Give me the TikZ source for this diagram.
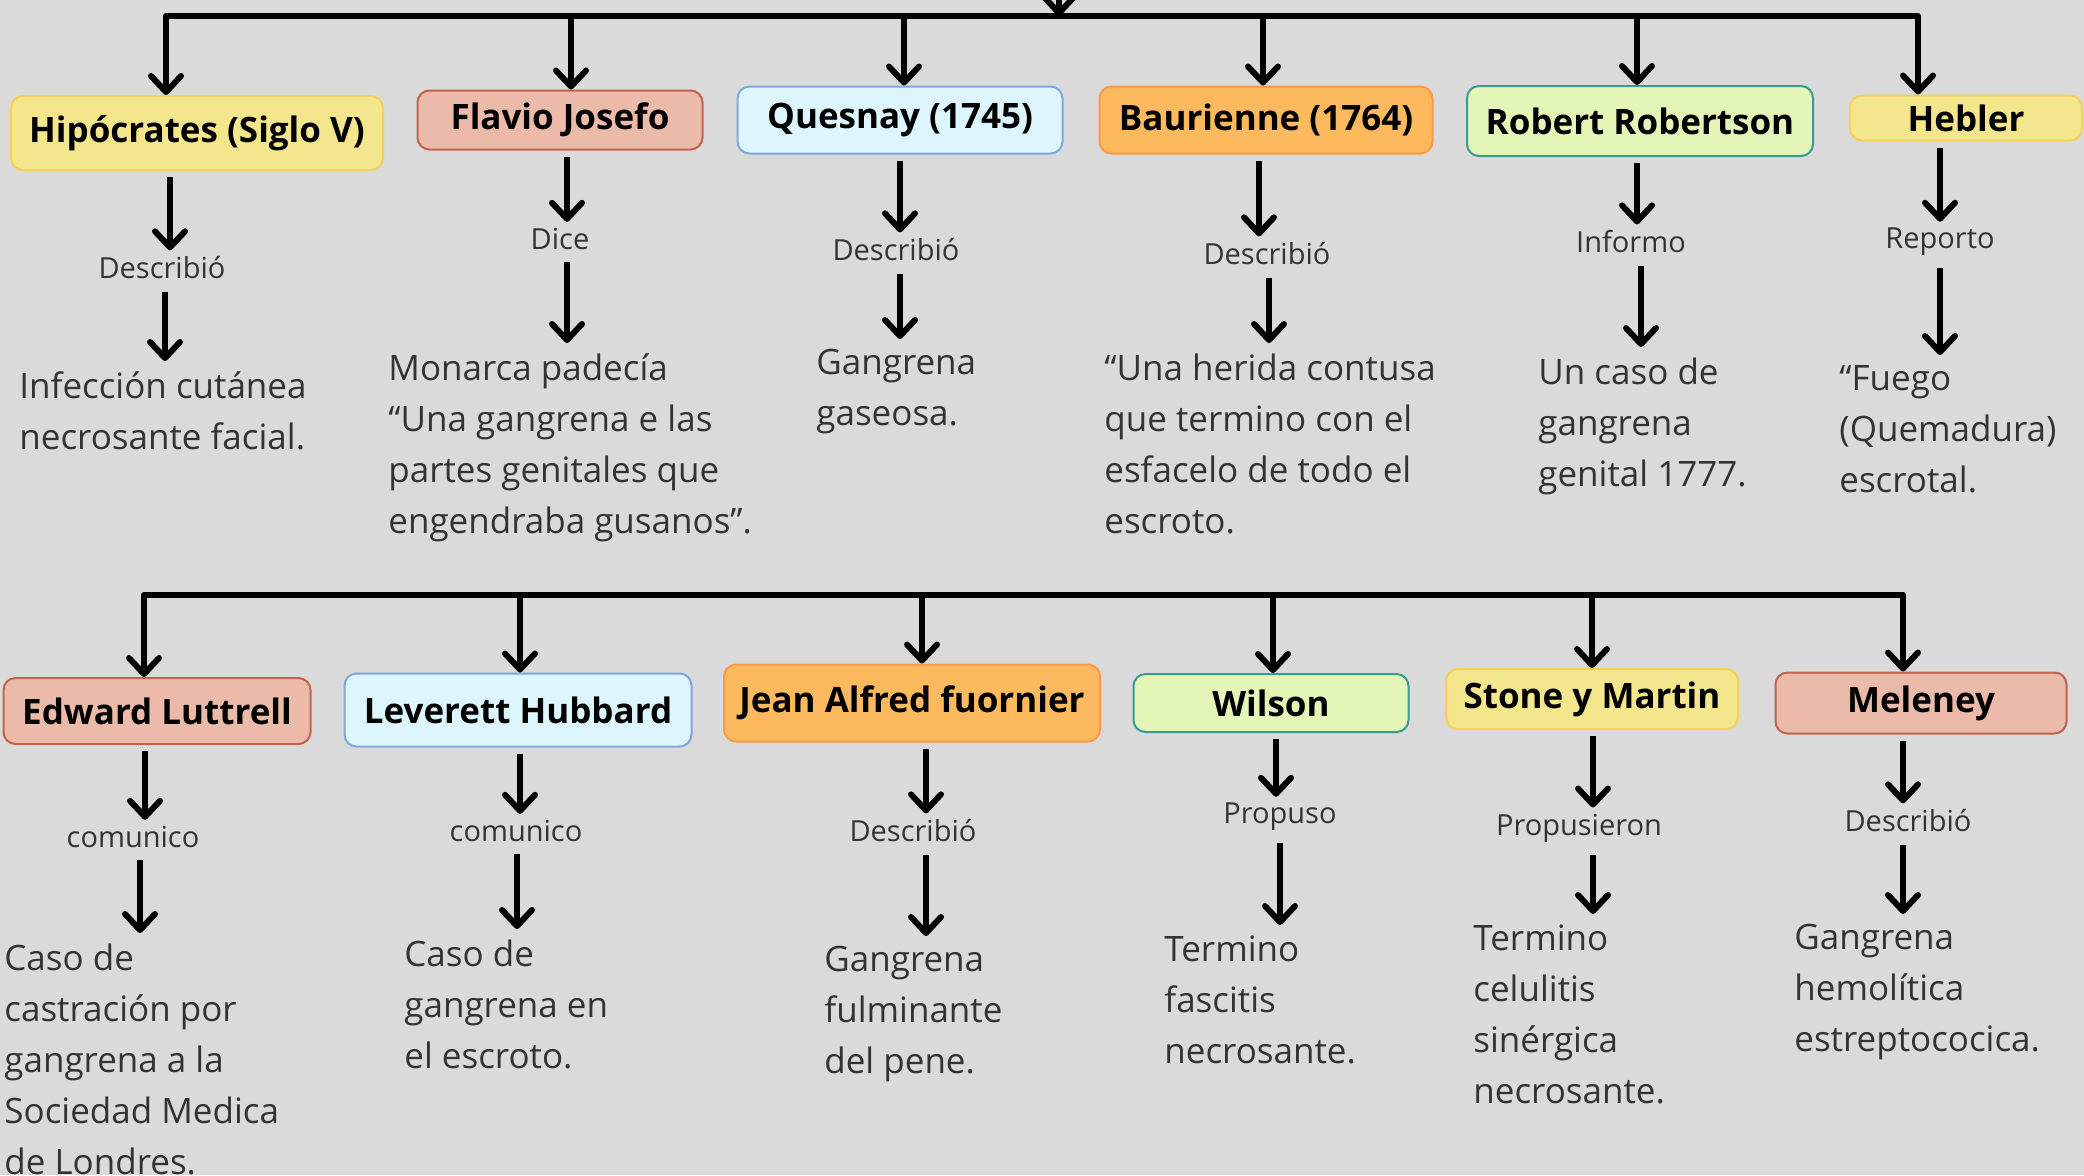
\documentclass[tikz,border=0pt]{standalone}
\usepackage{fontspec}
\setmainfont{Open Sans}
\usetikzlibrary{arrows.meta}

\definecolor{fondo}{HTML}{DADADA}
\definecolor{salmonF}{HTML}{EBBAA8}
\definecolor{salmonD}{HTML}{C0634D}
\definecolor{amarF}{HTML}{F4E68C}
\definecolor{amarD}{HTML}{F6D05A}
\definecolor{celesteF}{HTML}{DDF6FE}
\definecolor{celesteD}{HTML}{7FA6E0}
\definecolor{naranjaF}{HTML}{FDB95E}
\definecolor{naranjaD}{HTML}{F99A4A}
\definecolor{verdeF}{HTML}{E3F5B7}
\definecolor{verdeD}{HTML}{3A9A95}

\begin{document}
\begin{tikzpicture}[x=0.5pt,y=-0.5pt,
	barra/.style={line width=3pt,line cap=round},
	flecha/.style={line width=3pt,-{Straight Barb[length=8pt,width=15pt,round]}},
	caja/.style={rounded corners=6pt,line width=1pt,inner sep=0pt,
		font=\bfseries\fontsize{17.5}{20}\selectfont},
	verbo/.style={inner sep=1pt,text=black!80,font=\fontsize{14.5}{17}\selectfont},
	nota/.style={anchor=north west,align=left,inner sep=0pt,text=black!80,
		font=\fontsize{17.5}{25.5}\selectfont}]
	\fill [fondo] (0,0) rectangle (2084,1175);
	\useasboundingbox (0,0) rectangle (2084,1175);
	\clip (0,0) rectangle (2084,1175);
	% fila de arriba
	\coordinate (tc) at (1059,16);
	\coordinate (t1) at (166,16);
	\coordinate (t2) at (571,16);
	\coordinate (t3) at (904,16);
	\coordinate (t4) at (1263,16);
	\coordinate (t5) at (1637,16);
	\coordinate (t6) at (1918,16);
	\draw [barra] (t1) -- (t6);
	\draw [flecha] (1059,-40) -- (tc);
	\node [caja,draw=amarD,fill=amarF,minimum width=186pt,minimum height=37pt] (hipo) at (197,133) {Hipócrates (Siglo V)};
	\node [caja,draw=salmonD,fill=salmonF,minimum width=142.5pt,minimum height=29.5pt] (flavio) at (560,120) {Flavio Josefo};
	\node [caja,draw=celesteD,fill=celesteF,minimum width=162.5pt,minimum height=33.5pt] (quesnay) at (900,120) {Quesnay (1745)};
	\node [caja,draw=naranjaD,fill=naranjaF,minimum width=166.5pt,minimum height=33.5pt] (baur) at (1266,120) {Baurienne (1764)};
	\node [caja,draw=verdeD,fill=verdeF,minimum width=173pt,minimum height=35pt] (robert) at (1640,121) {Robert Robertson};
	\node [caja,draw=amarD,fill=amarF,minimum width=116pt,minimum height=22.5pt] (hebler) at (1966,118) {Hebler};
	\foreach \t/\c in {t1/hipo,t2/flavio,t3/quesnay,t4/baur,t5/robert,t6/hebler}
		\draw [flecha] (\t) -- (\t |- \c.north);
	\node [verbo] (hipoV) at (162,268) {Describió};
	\node [verbo] (flavioV) at (560,239) {Dice};
	\node [verbo] (quesnayV) at (896,250) {Describió};
	\node [verbo] (baurV) at (1267,254) {Describió};
	\node [verbo] (robertV) at (1631,242) {Informo};
	\node [verbo] (heblerV) at (1940,242) {Reporto};
	\node [nota] (hipoT) at (19,371) {Infección cutánea\\necrosante facial.};
	\node [nota] (flavioT) at (388,353) {Monarca padecía\\“Una gangrena e las\\partes genitales que\\engendraba gusanos”.};
	\node [nota] (quesnayT) at (816,349) {Gangrena\\gaseosa.};
	\node [nota] (baurT) at (1104,353) {“Una herida contusa\\que termino con el\\esfacelo de todo el\\escroto.};
	\node [nota] (robertT) at (1538,357) {Un caso de\\gangrena\\genital 1777.};
	\node [nota] (heblerT) at (1839,365) {“Fuego\\(Quemadura)\\escrotal.};
	\foreach \c/\a/\b in {hipo/170/165,flavio/567/567,quesnay/900/900,baur/1259/1269,robert/1637/1641,hebler/1940/1940}{
		\draw [flecha,shorten <=3pt,shorten >=2pt] (\a,0 |- \c.south) -- (\a,0 |- \c V.north);
		\draw [flecha,shorten <=5pt,shorten >=5pt] (\b,0 |- \c V.south) -- (\b,0 |- \c T.north);
	}
	% fila de abajo
	\coordinate (b1) at (144,595);
	\coordinate (b2) at (520,595);
	\coordinate (b3) at (922,595);
	\coordinate (b4) at (1273,595);
	\coordinate (b5) at (1592,595);
	\coordinate (b6) at (1903,595);
	\draw [barra] (b1) -- (b6);
	\node [caja,draw=salmonD,fill=salmonF,minimum width=153.5pt,minimum height=33pt] (edward) at (157,711) {Edward Luttrell};
	\node [caja,draw=celesteD,fill=celesteF,minimum width=173.5pt,minimum height=36.5pt] (leverett) at (518,710) {Leverett Hubbard};
	\node [caja,draw=naranjaD,fill=naranjaF,minimum width=188pt,minimum height=38.5pt] (fournier) at (912,703) {Jean Alfred fuornier};
	\node [caja,draw=verdeD,fill=verdeF,minimum width=137.5pt,minimum height=29pt] (wilson) at (1271,703) {Wilson};
	\node [caja,draw=amarD,fill=amarF,minimum width=146pt,minimum height=30pt] (stone) at (1592,699) {Stone y Martin};
	\node [caja,draw=salmonD,fill=salmonF,minimum width=145.5pt,minimum height=30.5pt] (meleney) at (1921,703) {Meleney};
	\foreach \t/\c in {b1/edward,b2/leverett,b3/fournier,b4/wilson,b5/stone,b6/meleney}
		\draw [flecha] (\t) -- (\t |- \c.north);
	\node [verbo] (edwardV) at (133,837) {comunico};
	\node [verbo] (leverettV) at (516,831) {comunico};
	\node [verbo] (fournierV) at (913,831) {Describió};
	\node [verbo] (wilsonV) at (1280,817) {Propuso};
	\node [verbo] (stoneV) at (1579,828) {Propusieron};
	\node [verbo] (meleneyV) at (1908,821) {Describió};
	\node [nota] (edwardT) at (4,943) {Caso de\\castración por\\gangrena a la\\Sociedad Medica\\de Londres.};
	\node [nota] (leverettT) at (404,939) {Caso de\\gangrena en\\el escroto.};
	\node [nota] (fournierT) at (824,946) {Gangrena\\fulminante\\del pene.};
	\node [nota] (wilsonT) at (1164,935) {Termino\\fascitis\\necrosante.};
	\node [nota] (stoneT) at (1473,924) {Termino\\celulitis\\sinérgica\\necrosante.};
	\node [nota] (meleneyT) at (1794,924) {Gangrena\\hemolítica\\estreptococica.};
	\foreach \c/\a/\b in {edward/145/140,leverett/520/517,fournier/926/926,wilson/1276/1280,stone/1593/1593,meleney/1903/1903}{
		\draw [flecha,shorten <=3pt,shorten >=2pt] (\a,0 |- \c.south) -- (\a,0 |- \c V.north);
		\draw [flecha,shorten <=5pt,shorten >=5pt] (\b,0 |- \c V.south) -- (\b,0 |- \c T.north);
	}
\end{tikzpicture}
\end{document}
